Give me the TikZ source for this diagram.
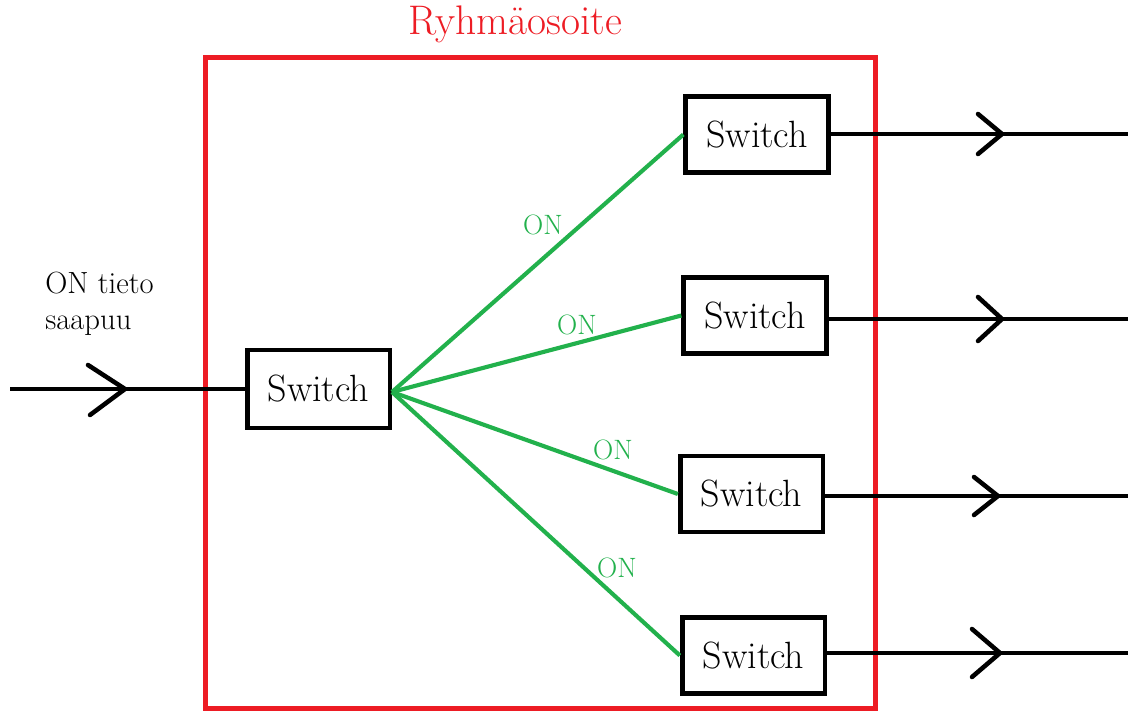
\documentclass[tikz,border=0pt]{standalone}
\usetikzlibrary{calc}
\definecolor{paintred}{HTML}{ED1C24}
\definecolor{paintgreen}{HTML}{22B14C}
\tikzset{
  swbox/.style={draw=black, line width=3.5pt, rectangle, inner sep=0pt,
    minimum width=107pt, minimum height=57pt, font=\fontsize{28.5}{32}\selectfont},
  wire/.style={draw=black, line width=3.1pt},
  onwire/.style={draw=paintgreen, line width=3.1pt},
  chev/.style={draw=black, line width=3.4pt, line cap=round, line join=miter},
  onlbl/.style={text=paintgreen, font=\fontsize{21}{24}\selectfont, inner sep=0pt},
  lbl/.style={font=\fontsize{23}{26}\selectfont, inner sep=0pt, align=left},
}
\begin{document}
\begin{tikzpicture}[x=0.75pt, y=-0.75pt]
\useasboundingbox (0,0) rectangle (1128,713);
% group frame
\draw[paintred, line width=3.5pt] (205.5,57.5) rectangle (875.5,708.5);
\node[text=paintred, font=\fontsize{31}{34}\selectfont, inner sep=0pt] (title) at (515,24) {Ryhmäosoite};
% switches
\node[swbox, minimum height=58.5pt] (main) at (318.5,389) {Switch};
\node[swbox] (b1) at (757,134.5) {Switch};
\node[swbox] (b2) at (755,315.5) {Switch};
\node[swbox] (b3) at (751.5,494) {Switch};
\node[swbox] (b4) at (753.5,655.5) {Switch};
% input
\coordinate (in) at (10,389);
\draw[wire] (in) -- (main.west);
\coordinate (tin) at (125,389);
\draw[chev] ($(tin)+(-37,-24)$) -- (tin) -- ($(tin)+(-35,26)$);
\node[lbl, anchor=base west] (t1) at (45,293) {ON tieto};
\node[lbl, anchor=base west] (t2) at (45,329) {saapuu};
% outputs
\coordinate (o1) at (1128,134);
\coordinate (o2) at (1128,319);
\coordinate (o3) at (1128,496);
\coordinate (o4) at (1128,653);
\draw[wire] (b1.east |- o1) -- (o1);
\draw[wire] (b2.east |- o2) -- (o2);
\draw[wire] (b3.east |- o3) -- (o3);
\draw[wire] (b4.east |- o4) -- (o4);
\coordinate (c1) at (1002,134);
\coordinate (c2) at (1002,319);
\coordinate (c3) at (998,496);
\coordinate (c4) at (1000,653);
\draw[chev] ($(c1)+(-24,-20)$) -- (c1) -- ($(c1)+(-24,20)$);
\draw[chev] ($(c2)+(-24,-22)$) -- (c2) -- ($(c2)+(-24,22)$);
\draw[chev] ($(c3)+(-24,-19)$) -- (c3) -- ($(c3)+(-24,19)$);
\draw[chev] ($(c4)+(-28,-24)$) -- (c4) -- ($(c4)+(-28,24)$);
% green fan
\coordinate (fan) at (392,392);
\draw[onwire] (fan) -- (b1.west);
\draw[onwire] (fan) -- (b2.west);
\draw[onwire] (fan) -- (b3.west);
\draw[onwire] (fan) -- (b4.west);
\node[onlbl] (l1) at (543,225) {ON};
\node[onlbl] (l2) at (577,325) {ON};
\node[onlbl] (l3) at (613,450) {ON};
\node[onlbl] (l4) at (617,568) {ON};
\end{tikzpicture}
\end{document}
